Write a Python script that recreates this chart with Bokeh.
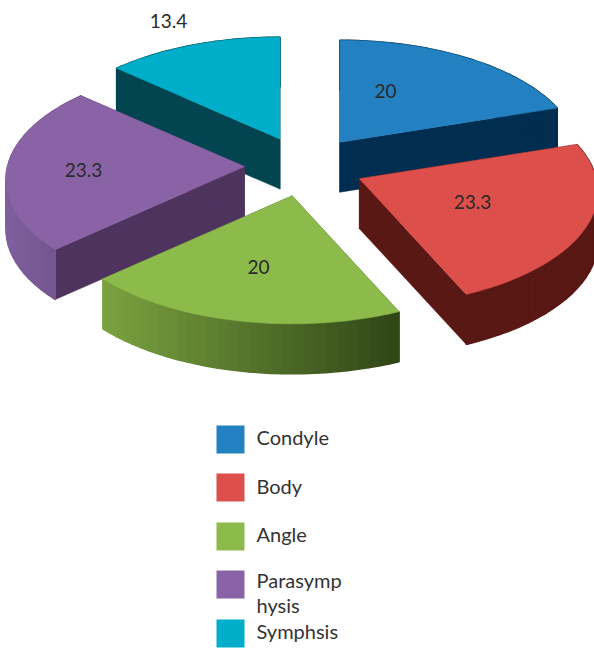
import math
from bokeh.plotting import figure
from bokeh.models import Range1d
from bokeh.core.properties import value
from bokeh.embed import file_html
from bokeh.resources import INLINE

categories = ["Condyle", "Body", "Angle", "Parasymphysis", "Symphsis"]
values = [20, 23.3, 20, 23.3, 13.4]
value_labels = ["20", "23.3", "20", "23.3", "13.4"]
legend_labels = ["Condyle", "Body", "Angle", "Parasymp\nhysis", "Symphsis"]

top_colors = ["#2380c1", "#dd4f4b", "#8cbb4b", "#8a63a6", "#00aec9"]
edge_colors = ["#012e50", "#591813", "#3d5a20", "#4f335f", "#02444f"]
arc_left = ["#012e50", "#591813", "#7aa240", "#7f5f9e", "#02444f"]
arc_right = ["#012e50", "#591813", "#2f4516", "#6e5088", "#02444f"]

CX, CY, EX, EY = 304, 166, 60, 30
DEPTH = 50
draw_order = [4, 0, 3, 1, 2]
label_pos = [(385, 90), (472, 201), (258, 266), (83, 169), (168, 20)]
swatch_y = [439, 487, 536, 584, 633]
text_y = [436, 485, 533, 592, 630]


def rim(theta):
    c = math.cos(theta)
    return (237 - 27 * c) * math.sin(theta), -(115 - 13 * c) * c


def mix(a, b, t):
    pa = [int(a[i:i + 2], 16) for i in (1, 3, 5)]
    pb = [int(b[i:i + 2], 16) for i in (1, 3, 5)]
    return "#%02x%02x%02x" % tuple(round(u + (v - u) * t) for u, v in zip(pa, pb))


p = figure(width=594, height=648, output_backend="svg", toolbar_location=None,
           x_range=Range1d(0, 594), y_range=Range1d(648, 0), min_border=0)
p.axis.visible = False
p.grid.visible = False
p.outline_line_color = None
p.background_fill_color = "#ffffff"

total = sum(values)
starts = []
acc = 0.0
for v in values:
    starts.append(acc)
    acc += v
for i in draw_order:
    t0 = 2 * math.pi * starts[i] / total
    t1 = 2 * math.pi * (starts[i] + values[i]) / total
    mid = (t0 + t1) / 2
    ax = CX + EX * math.sin(mid)
    ay = CY - EY * math.cos(mid)
    n = 30
    ts = [t0 + (t1 - t0) * k / n for k in range(n + 1)]
    rx = [ax + rim(t)[0] for t in ts]
    ry = [ay + rim(t)[1] for t in ts]
    # radial walls
    for ex, ey in ((rx[0], ry[0]), (rx[-1], ry[-1])):
        xs = [ax, ex, ex, ax]
        ys = [ay, ey, ey + DEPTH, ay + DEPTH]
        p.patch(xs, ys, fill_color=edge_colors[i], line_color=edge_colors[i], line_width=0.5)
    # outer wall as shaded strips
    lo, hi = min(rx), max(rx)
    sx, sy, sc = [], [], []
    for k in range(n):
        sx.append([rx[k], rx[k + 1], rx[k + 1], rx[k]])
        sy.append([ry[k], ry[k + 1], ry[k + 1] + DEPTH, ry[k] + DEPTH])
        sc.append(mix(arc_left[i], arc_right[i], ((rx[k] + rx[k + 1]) / 2 - lo) / (hi - lo)))
    p.patches(sx, sy, fill_color=sc, line_color=sc, line_width=1.5)
    # top face
    p.patch([ax] + rx, [ay] + ry, fill_color=top_colors[i], line_color=top_colors[i], line_width=0.5)

p.text([q[0] for q in label_pos], [q[1] for q in label_pos], text=value_labels,
       text_font=value("Lato"), text_font_size="19px", text_color="#2a2a2a",
       text_align="center", text_baseline="middle")

p.rect([230] * 5, swatch_y, width=28, height=28, fill_color=top_colors, line_color=None)
p.text([256] * 5, text_y, text=legend_labels, text_font=value("Lato"), text_font_size="20px",
       text_color="#333333", text_align="left", text_baseline="middle", text_line_height=1.05)

open("out.html", "w").write(file_html(p, INLINE))
